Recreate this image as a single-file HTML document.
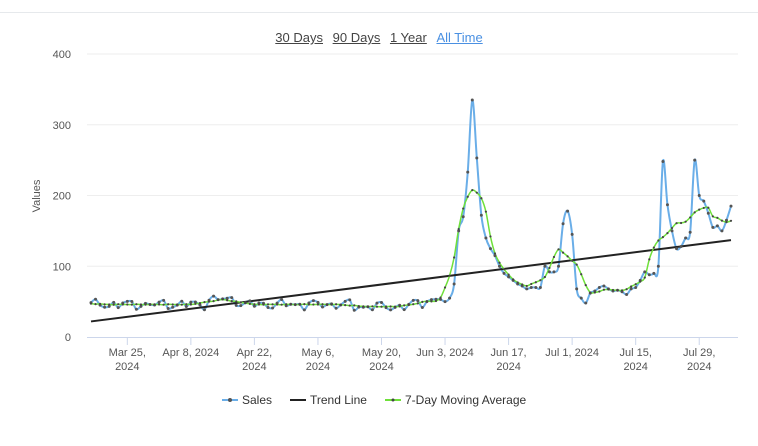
<!DOCTYPE html>
<html><head><meta charset="utf-8"><style>
body{margin:0;background:#fff;font-family:"Liberation Sans",sans-serif;}
#top{position:absolute;left:0;top:12px;width:758px;height:1px;background:#e6e9ec}
#btns{position:absolute;top:30px;left:0;width:758px;text-align:center;font-size:13px;}
#btns span{text-decoration:underline;color:#444;margin:0 3px}
#btns span.a{color:#4a90e2}
</style></head><body>
<div id="top"></div>
<div id="btns"><span>30 Days</span> <span>90 Days</span> <span>1 Year</span> <span class="a">All Time</span></div>
<svg id="c" width="758" height="446" style="position:absolute;left:0;top:0" font-family="Liberation Sans, sans-serif"></svg>
<script>
var s=[];
for(var d=0;d<78;d++){var v=46+4*Math.sin(d*1.7)+3*Math.sin(d*0.9+1)+2*Math.sin(d*2.9);if(d>=26&&d<=32)v+=7;if(d>=58&&d<=70)v-=3;if(d>=70)v+=(d-70)*1.2;s.push(v);}
var tail=[50,55,75,150,170,233,335,253,172,140,125,115,100,90,85,80,75,72,68,70,70,70,100,92,92,100,160,178,145,68,55,48,62,65,70,72,68,65,66,64,60,68,70,80,92,88,90,100,248,187,150,125,128,140,148,250,200,192,175,155,157,150,165,185];
s=s.concat(tail);
var N=s.length;
function X(d){return 91+d*(640/(N-1));}
function Y(v){return 337-v*0.7075;}
var ma=[];for(var i=0;i<N;i++){var a=Math.max(0,i-3),b=Math.min(N-1,i+3),t=0;for(var j=a;j<=b;j++)t+=s[j];ma.push(t/(b-a+1));}
function path(arr){var p=arr.map(function(v,i){return[X(i),Y(v)]});var d="M"+p[0][0]+","+p[0][1];for(var i=0;i<p.length-1;i++){var p0=p[Math.max(0,i-1)],p1=p[i],p2=p[i+1],p3=p[Math.min(p.length-1,i+2)];d+=" C"+(p1[0]+(p2[0]-p0[0])/6)+","+(p1[1]+(p2[1]-p0[1])/6)+" "+(p2[0]-(p3[0]-p1[0])/6)+","+(p2[1]-(p3[1]-p1[1])/6)+" "+p2[0]+","+p2[1];}return d;}
var h="";
[0,100,200,300,400].forEach(function(v){var y=Y(v);if(v>0)h+='<line x1="87" x2="738" y1="'+y+'" y2="'+y+'" stroke="#eeeeee"/>';h+='<text x="71" y="'+(y+4)+'" text-anchor="end" font-size="11" fill="#555">'+v+'</text>';});
h+='<line x1="87" x2="738" y1="337.5" y2="337.5" stroke="#ccd6eb"/>';
h+='<text transform="translate(40,196) rotate(-90)" text-anchor="middle" font-size="11" fill="#555">Values</text>';
var labs=[["Mar 25,","2024"],["Apr 8, 2024",""],["Apr 22,","2024"],["May 6,","2024"],["May 20,","2024"],["Jun 3, 2024",""],["Jun 17,","2024"],["Jul 1, 2024",""],["Jul 15,","2024"],["Jul 29,","2024"]];
labs.forEach(function(l,k){var x=X(8+14*k);h+='<line x1="'+x+'" x2="'+x+'" y1="337" y2="345" stroke="#ccd6eb"/>';h+='<text x="'+x+'" y="356" text-anchor="middle" font-size="11" fill="#555">'+l[0]+'</text>';if(l[1])h+='<text x="'+x+'" y="370" text-anchor="middle" font-size="11" fill="#555">'+l[1]+'</text>';});
h+='<path d="'+path(s)+'" fill="none" stroke="#6aaee8" stroke-width="2"/>';
h+='<line x1="91" y1="'+Y(22)+'" x2="731" y2="'+Y(137)+'" stroke="#222" stroke-width="2"/>';
h+='<path d="'+path(ma)+'" fill="none" stroke="#6fe03a" stroke-width="1.5"/>';
for(var i=0;i<N;i++){h+='<circle cx="'+X(i)+'" cy="'+Y(s[i])+'" r="1.5" fill="#555"/><circle cx="'+X(i)+'" cy="'+Y(ma[i])+'" r="1.1" fill="#444"/>';}
h+='<line x1="222" x2="238" y1="400" y2="400" stroke="#6aaee8" stroke-width="2"/><circle cx="230" cy="400" r="2" fill="#555"/><text x="242" y="404" font-size="12" fill="#333">Sales</text>';
h+='<line x1="290" x2="306" y1="400" y2="400" stroke="#222" stroke-width="2"/><text x="310" y="404" font-size="12" fill="#333">Trend Line</text>';
h+='<line x1="385" x2="401" y1="400" y2="400" stroke="#6fe03a" stroke-width="2"/><circle cx="393" cy="400" r="1.5" fill="#444"/><text x="405" y="404" font-size="12" fill="#333">7-Day Moving Average</text>';
document.getElementById("c").innerHTML=h;
</script>
</body></html>
